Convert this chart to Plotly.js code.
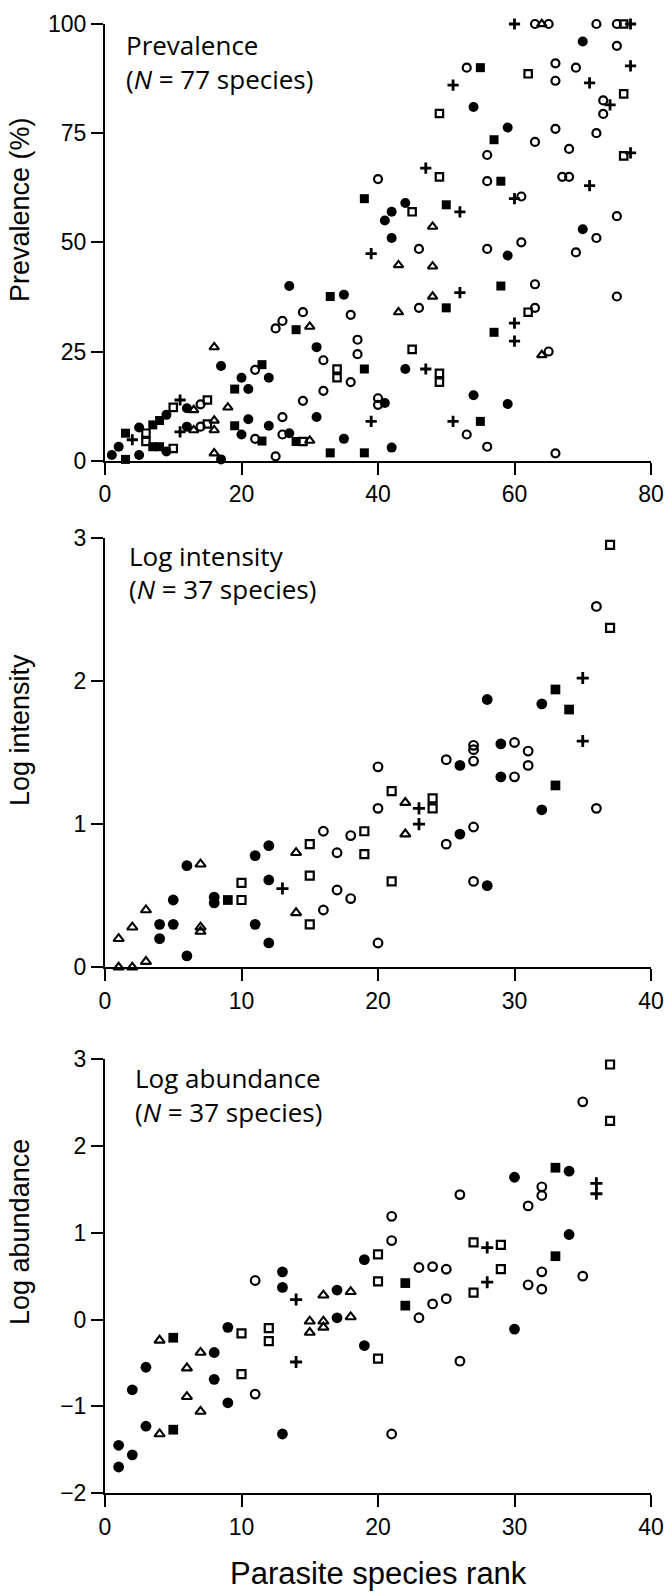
<!DOCTYPE html>
<html>
<head>
<meta charset="utf-8">
<script src="https://cdn.plot.ly/plotly-3.0.1.min.js"></script>
<style>html,body{margin:0;padding:0;background:#fff;}#chart{width:669px;height:1593px;}</style>
</head>
<body>
<div id="chart"></div>
<script>
// ---------- Panel 1: Prevalence (%) ----------
const prevFilledCircleRank = [1,2,5,5,9,9,12,12,17,17,20,20,21,21,24,24,27,27,31,31,35,35,41,41,42,42,42,44,44,54,54,59,59,59,70,70];
const prevFilledCircleValue = [1.3,3.2,7.6,1.3,10.5,2.1,12,7.8,21.7,0.3,19,6,16.4,9.5,19,8,40,6.3,26,10,38,5,55,13.2,57,51,3,59,21,81,15,76.3,47,13,96,53];
const prevOpenCircleRank = [14,14,22,22,25,25,26,26,26,29,29,32,32,36,36,37,37,40,40,40,46,46,53,53,56,56,56,56,61,61,63,63,63,63,65,65,66,66,66,66,67,68,68,69,69,72,72,72,73,73,75,75,75,75];
const prevOpenCircleValue = [12.9,7.8,20.8,5,30.3,1,32,10,6,34,13.7,23,16,33.4,18,27.7,24.4,64.5,14.3,12.8,48.5,35,90,6,70,64,48.5,3.2,60.5,50,100,73,40.4,35,100,25,91,87,76,1.7,65,65,71.4,90,47.7,100,75,51,82.5,79.4,100,95,56,37.6];
const prevFilledSquareRank = [3,3,7,7,8,8,19,19,23,23,28,28,33,33,38,38,38,50,50,55,55,57,57,58,58];
const prevFilledSquareValue = [6.3,0.3,8.2,3.2,9.2,3.2,16.4,8,22,4.5,30,4.4,37.6,1.8,60,21,1.8,58.6,35,90,9,73.5,29.4,64,40];
const prevOpenSquareRank = [6,6,10,10,15,15,29,34,34,45,45,49,49,49,49,62,62,76,76,76];
const prevOpenSquareValue = [6.3,4.4,12.2,2.8,13.9,8.4,4.4,21,19,57,25.5,79.5,65,20,18,88.6,34,100,84,69.8];
const prevTriangleRank = [13,13,16,16,16,16,18,30,30,43,43,48,48,48,64,64];
const prevTriangleValue = [11.6,7,26,9.2,7,1.7,12.2,30.7,4.6,44.8,34,53.6,44.5,37.6,100,24.2];
const prevPlusRank = [4,11,11,39,39,47,47,51,51,52,52,60,60,60,60,71,71,74,77,77,77];
const prevPlusValue = [4.8,13.9,6.6,47.4,9,67,21,86,9,57,38.5,100,60,31.5,27.4,86.5,63,81.5,100,90.4,70.5];

// ---------- Panel 2: Log intensity ----------
const intFilledCircleRank = [4,4,5,5,6,6,8,8,11,11,12,12,12,26,26,28,28,29,29,32,32];
const intFilledCircleValue = [0.3,0.2,0.3,0.47,0.08,0.71,0.49,0.45,0.78,0.3,0.85,0.61,0.17,1.41,0.93,1.87,0.57,1.56,1.33,1.84,1.1];
const intOpenCircleRank = [16,16,17,17,18,18,20,20,20,25,25,27,27,27,27,27,30,30,31,31,36,36];
const intOpenCircleValue = [0.95,0.4,0.8,0.54,0.92,0.48,1.4,1.11,0.17,1.45,0.86,1.55,1.52,1.44,0.98,0.6,1.57,1.33,1.51,1.41,2.52,1.11];
const intFilledSquareRank = [9,33,33,34];
const intFilledSquareValue = [0.47,1.94,1.27,1.8];
const intOpenSquareRank = [10,10,15,15,15,19,19,21,21,24,24,37,37];
const intOpenSquareValue = [0.59,0.47,0.86,0.64,0.3,0.95,0.79,1.23,0.6,1.18,1.11,2.95,2.37];
const intTriangleRank = [1,2,3,1,2,3,7,7,7,14,14,22,22];
const intTriangleValue = [0,0,0.04,0.2,0.28,0.4,0.72,0.28,0.25,0.8,0.38,1.15,0.93];
const intPlusRank = [13,23,23,35,35];
const intPlusValue = [0.55,1.11,1.0,2.02,1.58];

// ---------- Panel 3: Log abundance ----------
const abFilledCircleRank = [1,1,2,2,3,3,8,8,9,9,13,13,13,17,17,19,19,30,30,34,34];
const abFilledCircleValue = [-1.45,-1.7,-0.81,-1.56,-0.55,-1.23,-0.38,-0.69,-0.09,-0.96,0.55,0.37,-1.32,0.34,0.02,0.69,-0.3,1.64,-0.11,1.71,0.98];
const abOpenCircleRank = [11,11,21,21,21,23,23,24,24,25,25,26,26,31,31,32,32,32,32,35,35];
const abOpenCircleValue = [0.45,-0.86,1.19,0.91,-1.32,0.6,0.02,0.61,0.18,0.58,0.24,1.44,-0.48,1.31,0.4,1.53,1.43,0.55,0.35,2.51,0.5];
const abFilledSquareRank = [5,5,22,22,33,33];
const abFilledSquareValue = [-0.21,-1.27,0.42,0.16,1.75,0.73];
const abOpenSquareRank = [10,10,12,12,20,20,20,27,27,29,29,37,37];
const abOpenSquareValue = [-0.16,-0.63,-0.1,-0.25,0.75,0.44,-0.45,0.89,0.31,0.86,0.58,2.94,2.29];
const abTriangleRank = [4,4,6,6,7,7,15,15,16,16,16,18,18];
const abTriangleValue = [-0.24,-1.32,-0.56,-0.89,-0.38,-1.06,-0.02,-0.15,0.28,-0.02,-0.09,0.32,0.03];
const abPlusRank = [14,14,28,28,36,36];
const abPlusValue = [0.23,-0.49,0.83,0.43,1.57,1.45];

// ---------- Text ----------
const panelTitles = ['Prevalence', 'Log intensity', 'Log abundance'];
const panelCounts = ['(<i>N</i> = 77 species)', '(<i>N</i> = 37 species)', '(<i>N</i> = 37 species)'];
const yTitles = ['Prevalence (%)', 'Log intensity', 'Log abundance'];
const xTitle = 'Parasite species rank';
const prevTicks = [0,25,50,75,100];
const rank80Ticks = [0,20,40,60,80];
const rank40Ticks = [0,10,20,30,40];
const logIntTicks = [0,1,2,3];
const logAbTicks = [-2,-1,0,1,2,3];

// ---------- Styles ----------
function styles(k) {
  return {
    fc: {symbol: 'circle', size: 10*k, color: '#000', line: {width: 0}},
    oc: {symbol: 'circle-open', size: 8*k, color: '#000', line: {width: 2.2, color: '#000'}},
    fs: {symbol: 'square', size: 9*k, color: '#000', line: {width: 0}},
    os: {symbol: 'square-open', size: 7.4*k, color: '#000', line: {width: 2.2, color: '#000'}},
    tri: {symbol: 'triangle-up-open', size: 8.4*k, color: '#000', line: {width: 2.1, color: '#000'}},
    plus: {symbol: 'cross-thin-open', size: 8*k, color: '#000', line: {width: 2.8, color: '#000'}}
  };
}

function tr(x, y, marker, xa, ya) {
  return {type: 'scatter', mode: 'markers', x: x, y: y, marker: marker,
          xaxis: xa, yaxis: ya, cliponaxis: false, showlegend: false, hoverinfo: 'x+y'};
}

const s1 = styles(1.0), s2 = styles(1.08);
const data = [
  tr(prevOpenCircleRank, prevOpenCircleValue, s1.oc, 'x', 'y'),
  tr(prevOpenSquareRank, prevOpenSquareValue, s1.os, 'x', 'y'),
  tr(prevTriangleRank, prevTriangleValue, s1.tri, 'x', 'y'),
  tr(prevPlusRank, prevPlusValue, s1.plus, 'x', 'y'),
  tr(prevFilledSquareRank, prevFilledSquareValue, s1.fs, 'x', 'y'),
  tr(prevFilledCircleRank, prevFilledCircleValue, s1.fc, 'x', 'y'),

  tr(intOpenCircleRank, intOpenCircleValue, s2.oc, 'x2', 'y2'),
  tr(intOpenSquareRank, intOpenSquareValue, s2.os, 'x2', 'y2'),
  tr(intTriangleRank, intTriangleValue, s2.tri, 'x2', 'y2'),
  tr(intPlusRank, intPlusValue, s2.plus, 'x2', 'y2'),
  tr(intFilledSquareRank, intFilledSquareValue, s2.fs, 'x2', 'y2'),
  tr(intFilledCircleRank, intFilledCircleValue, s2.fc, 'x2', 'y2'),

  tr(abOpenCircleRank, abOpenCircleValue, s2.oc, 'x3', 'y3'),
  tr(abOpenSquareRank, abOpenSquareValue, s2.os, 'x3', 'y3'),
  tr(abTriangleRank, abTriangleValue, s2.tri, 'x3', 'y3'),
  tr(abPlusRank, abPlusValue, s2.plus, 'x3', 'y3'),
  tr(abFilledSquareRank, abFilledSquareValue, s2.fs, 'x3', 'y3'),
  tr(abFilledCircleRank, abFilledCircleValue, s2.fc, 'x3', 'y3')
];

const axisFont = {family: 'Liberation Sans, Arial, sans-serif', size: 23, color: '#000'};
function ax(extra) {
  return Object.assign({
    showline: true, linecolor: '#000', linewidth: 2,
    ticks: 'outside', ticklen: 12, tickwidth: 2, tickcolor: '#000',
    showgrid: false, zeroline: false, mirror: false, fixedrange: true,
    tickfont: axisFont, tickmode: 'array'
  }, extra);
}

// pixel helpers for annotations (plot area: x 105..651, y 24..1493)
const T = 24, B = 1493, L = 105, R = 651;
const py = p => (B - p) / (B - T);
const px = p => (p - L) / (R - L);

const labelFont = {family: 'Open Sans, sans-serif', size: 26, color: '#000'};
const titleFont = {family: 'Liberation Sans, Arial, sans-serif', size: 27, color: '#000'};

const annotations = [];
const textPos = [[124, 45, 79], [127, 556, 589], [133, 1078, 1112]];
for (let i = 0; i < 3; i++) {
  annotations.push({xref: 'paper', yref: 'paper', x: px(textPos[i][0]), y: py(textPos[i][1]), xanchor: 'left', yanchor: 'middle', text: panelTitles[i], showarrow: false, font: labelFont});
  annotations.push({xref: 'paper', yref: 'paper', x: px(textPos[i][0]), y: py(textPos[i][2]), xanchor: 'left', yanchor: 'middle', text: panelCounts[i], showarrow: false, font: labelFont});
}
const yTitlePos = [210, 730, 1232];
for (let i = 0; i < 3; i++) {
  annotations.push({xref: 'paper', yref: 'paper', x: px(20), y: py(yTitlePos[i]), xanchor: 'center', yanchor: 'middle', textangle: -90, text: yTitles[i], showarrow: false, font: titleFont});
}
annotations.push({xref: 'paper', yref: 'paper', x: px(378), y: py(1573), xanchor: 'center', yanchor: 'middle', text: xTitle, showarrow: false, font: {family: 'Liberation Sans, Arial, sans-serif', size: 31, color: '#000'}});

const layout = {
  width: 669, height: 1593,
  margin: {l: L, r: 669 - R, t: T, b: 1593 - B, pad: 0},
  paper_bgcolor: '#fff', plot_bgcolor: '#fff',
  showlegend: false,
  xaxis: ax({domain: [0, 1], anchor: 'y', range: [0, 80], tickvals: rank80Ticks}),
  yaxis: ax({domain: [py(460.7), 1], anchor: 'x', range: [0, 100], tickvals: prevTicks}),
  xaxis2: ax({domain: [0, 1], anchor: 'y2', range: [0, 40], tickvals: rank40Ticks}),
  yaxis2: ax({domain: [py(967.3), py(537.7)], anchor: 'x2', range: [0, 3], tickvals: logIntTicks}),
  xaxis3: ax({domain: [0, 1], anchor: 'y3', range: [0, 40], tickvals: rank40Ticks}),
  yaxis3: ax({domain: [0, py(1059.3)], anchor: 'x3', range: [-2, 3], tickvals: logAbTicks}),
  annotations: annotations
};

Plotly.newPlot('chart', data, layout, {displayModeBar: false, staticPlot: true});
</script>
</body>
</html>
